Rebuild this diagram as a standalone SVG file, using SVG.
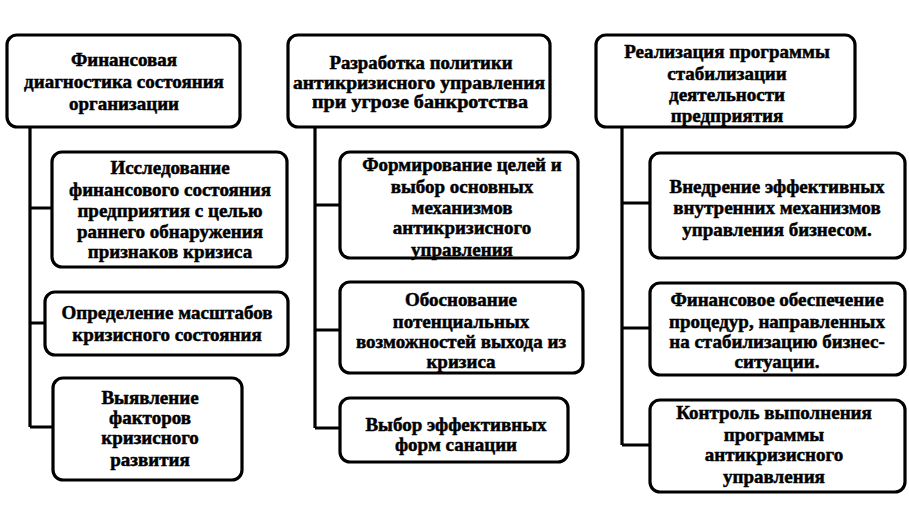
<svg xmlns="http://www.w3.org/2000/svg" width="909" height="527" viewBox="0 0 909 527">
<style>
.box{fill:#fff;stroke:#000;stroke-width:3.2}
.ln{fill:none;stroke:#000;stroke-width:3.2}
text{font-family:"Liberation Serif","Times New Roman",serif;font-weight:bold;font-size:19px;fill:#000;stroke:#000;stroke-width:0.5;text-anchor:middle}
.h2 text{font-size:18px}
</style>
<rect width="909" height="527" fill="#fff"/>
<g id="connectors">
<path class="ln" d="M30,128 V427 M30,208 H52 M30,323 H45 M30,427 H53"/>
<path class="ln" d="M315,127 V428 M315,205 H340 M315,330 H340 M315,428 H340"/>
<path class="ln" d="M622,127 V445 M622,203 H650 M622,328 H650 M622,445 H650"/>
</g>
<g id="h1">
<rect class="box" x="7" y="35" width="233" height="92" rx="10"/>
<text x="124" y="66">Финансовая</text>
<text x="124" y="88">диагностика состояния</text>
<text x="124" y="110">организации</text>
</g>
<g id="h2" class="h2">
<rect class="box" x="288" y="35" width="262" height="92" rx="10"/>
<text x="421" y="69" textLength="183" lengthAdjust="spacingAndGlyphs">Разработка политики</text>
<text x="419" y="89" textLength="252" lengthAdjust="spacingAndGlyphs">антикризисного управления</text>
<text x="420" y="108" textLength="216" lengthAdjust="spacingAndGlyphs">при угрозе банкротства</text>
</g>
<g id="h3">
<rect class="box" x="596" y="35" width="259" height="92" rx="10"/>
<text x="727" y="58">Реализация программы</text>
<text x="727" y="80">стабилизации</text>
<text x="727" y="101">деятельности</text>
<text x="727" y="122">предприятия</text>
</g>
<g id="n11">
<rect class="box" x="52" y="152" width="235" height="115" rx="10"/>
<text x="170" y="174">Исследование</text>
<text x="170" y="196">финансового состояния</text>
<text x="170" y="217">предприятия с целью</text>
<text x="170" y="238">раннего обнаружения</text>
<text x="170" y="258">признаков кризиса</text>
</g>
<g id="n12">
<rect class="box" x="45" y="292" width="243" height="63" rx="10"/>
<text x="167" y="319">Определение масштабов</text>
<text x="167" y="341">кризисного состояния</text>
</g>
<g id="n13">
<rect class="box" x="53" y="378" width="189" height="102" rx="10"/>
<text x="150" y="404">Выявление</text>
<text x="150" y="424">факторов</text>
<text x="150" y="444">кризисного</text>
<text x="150" y="466">развития</text>
</g>
<g id="n21">
<rect class="box" x="340" y="152" width="238" height="106" rx="10"/>
<text x="462" y="171">Формирование целей и</text>
<text x="462" y="193">выбор основных</text>
<text x="462" y="214">механизмов</text>
<text x="462" y="234">антикризисного</text>
<text x="462" y="256">управления</text>
</g>
<g id="n22">
<rect class="box" x="340" y="282" width="243" height="91" rx="10"/>
<text x="461" y="306">Обоснование</text>
<text x="461" y="328">потенциальных</text>
<text x="461" y="348">возможностей выхода из</text>
<text x="461" y="368">кризиса</text>
</g>
<g id="n23">
<rect class="box" x="340" y="398" width="228" height="64" rx="10"/>
<text x="456" y="431">Выбор эффективных</text>
<text x="456" y="451">форм санации</text>
</g>
<g id="n31">
<rect class="box" x="650" y="153" width="255" height="105" rx="10"/>
<text x="777" y="193">Внедрение эффективных</text>
<text x="777" y="214">внутренних механизмов</text>
<text x="777" y="236">управления бизнесом.</text>
</g>
<g id="n32">
<rect class="box" x="650" y="283" width="255" height="92" rx="10"/>
<text x="777" y="306">Финансовое обеспечение</text>
<text x="777" y="328">процедур, направленных</text>
<text x="777" y="348">на стабилизацию бизнес-</text>
<text x="777" y="368">ситуации.</text>
</g>
<g id="n33">
<rect class="box" x="650" y="400" width="255" height="92" rx="10"/>
<text x="774" y="419">Контроль выполнения</text>
<text x="774" y="441">программы</text>
<text x="774" y="461">антикризисного</text>
<text x="774" y="483">управления</text>
</g>
</svg>
